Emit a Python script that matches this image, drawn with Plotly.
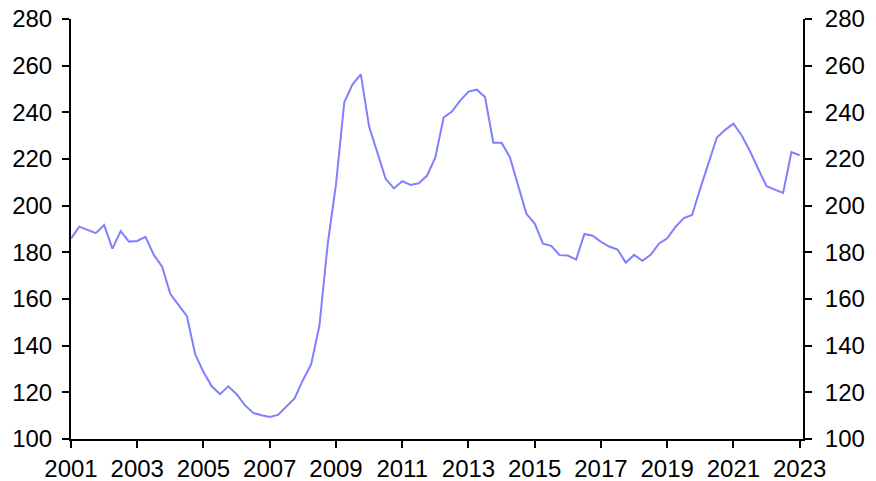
import plotly.graph_objects as go

start_year = 2001
values = [
    185.9, 191.0, 189.6, 188.2, 191.7, 181.6, 189.1, 184.6, 184.9, 186.6,
    178.9, 173.9, 162.1, 157.6, 152.6, 136.3, 128.7, 122.6, 119.2, 122.6,
    119.2, 114.5, 111.2, 110.2, 109.4, 110.3, 113.8, 117.4, 125.2, 132.0,
    148.6, 183.5, 209.1, 244.3, 252.0, 256.3, 233.9, 222.5, 211.5, 207.4,
    210.5, 208.9, 209.6, 212.9, 220.7, 237.8, 240.3, 245.0, 248.9, 249.7,
    246.6, 227.0, 227.0, 220.8, 209.1, 196.5, 192.3, 183.7, 182.8, 178.8,
    178.6, 176.9, 187.9, 187.1, 184.5, 182.5, 181.2, 175.6, 178.9, 176.4,
    178.9, 183.7, 186.0, 190.9, 194.7, 196.0, 207.4, 218.3, 229.2, 232.5,
    235.1, 230.1, 223.3, 215.7, 208.3, 206.9, 205.5, 223.0, 221.6,
]
x_dates = [start_year + i * 0.25 for i in range(len(values))]
tick_years = list(range(2001, 2024, 2))
y_ticks = list(range(100, 281, 20))

line_color = "#7F7FFF"
font = dict(family="Liberation Sans, Arial, sans-serif", size=24, color="#000000")

fig = go.Figure()
fig.add_trace(go.Scatter(x=x_dates, y=values, mode="lines",
                         line=dict(color=line_color, width=2), showlegend=False,
                         hoverinfo="x+y"))
fig.add_trace(go.Scatter(x=x_dates, y=values, mode="lines", yaxis="y2",
                         line=dict(color="rgba(0,0,0,0)", width=0), showlegend=False,
                         hoverinfo="skip"))

axis_common = dict(showgrid=False, zeroline=False, showline=True, linecolor="#000000",
                   linewidth=2, ticks="outside", ticklen=7, tickwidth=2, tickcolor="#000000",
                   tickfont=font, automargin=False, ticklabeloverflow="allow")

fig.update_layout(
    width=876, height=481,
    margin=dict(l=71, r=73, t=19, b=42),
    paper_bgcolor="white", plot_bgcolor="white",
    xaxis=dict(range=[2001, 2023.1], tickvals=tick_years,
               ticktext=[str(y) for y in tick_years], ticklabelstandoff=0, **axis_common),
    yaxis=dict(range=[100, 280], tickvals=y_ticks, ticklabelstandoff=5, **axis_common),
    yaxis2=dict(range=[100, 280], tickvals=y_ticks, overlaying="y", side="right",
                ticklabelstandoff=8, **axis_common),
)

fig.write_html("out.html", config={"displayModeBar": False},
               post_script="document.body.style.margin='0px';")
